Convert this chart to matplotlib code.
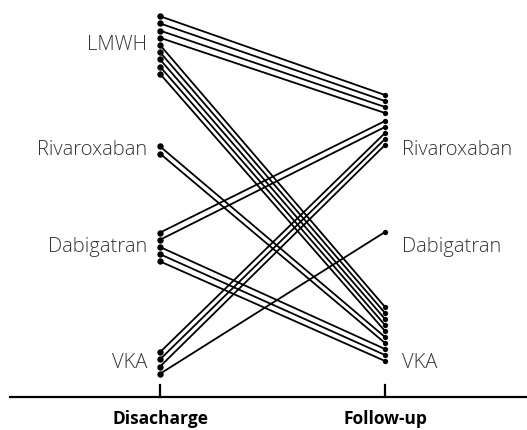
import matplotlib
matplotlib.use('Agg')
import matplotlib.pyplot as plt

# Treatment at discharge -> treatment at follow-up, number of patients
categories = ['LMWH', 'Rivaroxaban', 'Dabigatran', 'VKA']
flow_from = ['LMWH', 'LMWH', 'Rivaroxaban', 'Dabigatran', 'Dabigatran', 'VKA', 'VKA']
flow_to = ['LMWH', 'VKA', 'VKA', 'Rivaroxaban', 'VKA', 'Rivaroxaban', 'Dabigatran']
flow_n = [4, 5, 2, 2, 3, 3, 1]
time_labels = ['Disacharge', 'Follow-up']

# layout (pixel-like coordinates)
W, H = 527, 430
x_left, x_right = 160, 385
label_y = {'LMWH': 45, 'Rivaroxaban': 150, 'Dabigatran': 247, 'VKA': 363}
right_top = {'LMWH': 95, 'Rivaroxaban': 121, 'Dabigatran': 232, 'VKA': 307}
step_left, step_right = 7.2, 6.0
axis_y = 397

# one record per patient, ordered by discharge group then follow-up group
patients = []
for f, t, n in zip(flow_from, flow_to, flow_n):
    patients += [(f, t)] * n
patients.sort(key=lambda p: (categories.index(p[0]), categories.index(p[1])))

left_pos, right_pos = [], []
for c in categories:
    grp = [p for p in patients if p[0] == c]
    start = label_y[c] - step_left * (len(grp) - 1) / 2
    left_pos += [start + i * step_left for i in range(len(grp))]

right_count = {c: 0 for c in categories}
for f, t in patients:
    right_pos.append(right_top[t] + right_count[t] * step_right)
    right_count[t] += 1

fig = plt.figure(figsize=(W / 100, H / 100), dpi=100)
ax = fig.add_axes([0, 0, 1, 1])
ax.set_xlim(0, W)
ax.set_ylim(H, 0)
ax.axis('off')

for yl, yr in zip(left_pos, right_pos):
    ax.plot([x_left, x_right], [yl, yr], color='black', lw=1.3, solid_capstyle='round')
ax.plot([x_left] * len(left_pos), left_pos, 'o', color='black', ms=4.6, mew=0)
ax.plot([x_right] * len(right_pos), right_pos, 'o', color='black', ms=3.8, mew=0)

font = 'Open Sans'
for c in categories:
    ax.text(x_left - 13, label_y[c], c, ha='right', va='center', fontsize=14.5,
            color='#333333', family=font, fontweight='light')
    if c != 'LMWH':
        ax.text(x_right + 17, label_y[c], c, ha='left', va='center', fontsize=14.5,
                color='#333333', family=font, fontweight='light')

# time axis
ax.plot([10, W], [axis_y, axis_y], color='black', lw=1.6)
for x, lab in zip([x_left, x_right], time_labels):
    ax.plot([x, x], [axis_y - 12, axis_y], color='black', lw=1.6)
    ax.text(x, axis_y + 22, lab, ha='center', va='center', fontsize=12.5,
            fontweight='bold', color='black', family=font)

fig.savefig('out.png', dpi=100)
